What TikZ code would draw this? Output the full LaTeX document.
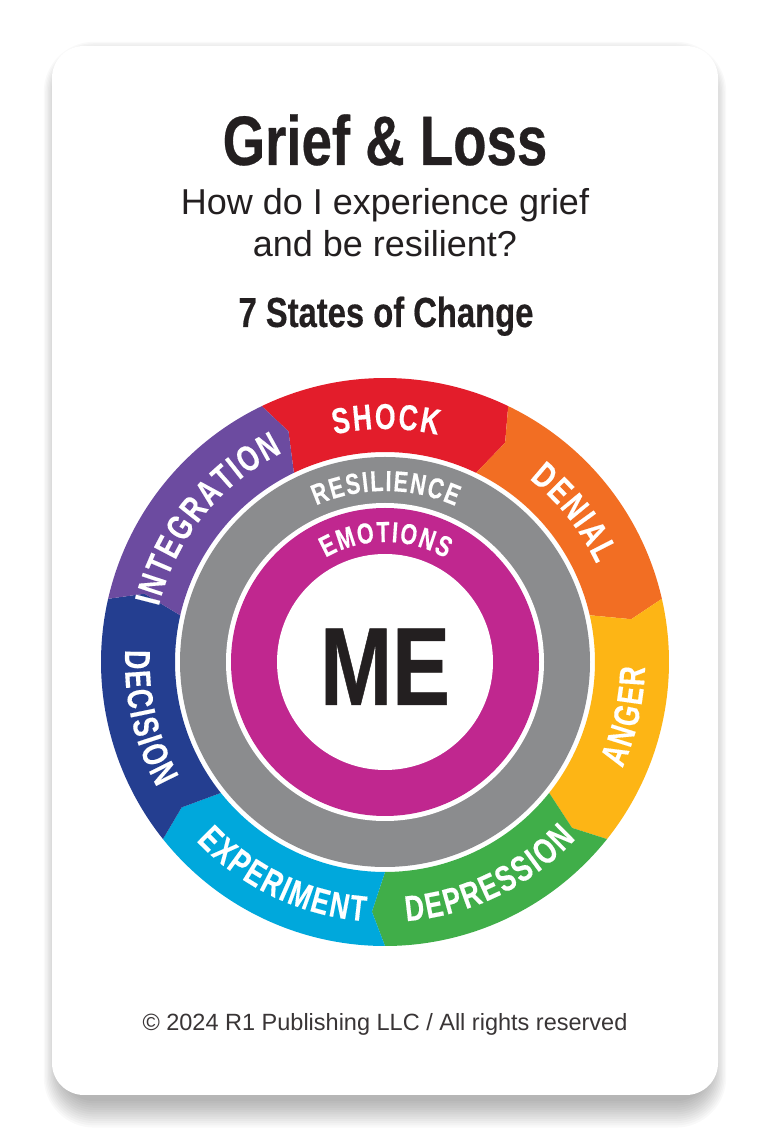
\documentclass[tikz,border=0pt]{standalone}
\usepackage{fontspec}
\setmainfont{Liberation Sans}
\newfontfamily\condfont{Liberation Sans Bold}[FakeStretch=0.78, FakeBold=0.4]
\newfontfamily\ringface{Liberation Sans Bold}[FakeStretch=0.74, FakeBold=0.3]
\usetikzlibrary{decorations.text}

\definecolor{inkdark}{HTML}{231F20}
\definecolor{shockred}{HTML}{E31D2B}
\definecolor{denialorange}{HTML}{F26E23}
\definecolor{angeryellow}{HTML}{FDB515}
\definecolor{depgreen}{HTML}{40AE49}
\definecolor{expcyan}{HTML}{00A8DC}
\definecolor{decnavy}{HTML}{243E90}
\definecolor{intpurple}{HTML}{6C4BA0}
\definecolor{resgray}{HTML}{8B8C8E}
\definecolor{emomagenta}{HTML}{C0278F}

% letters along the rings get a small kern each, as a loose tracking
\newcommand{\ringfont}{\ringface\fontsize{36}{36}\selectfont\kern2pt}
\newcommand{\innerfont}{\ringface\fontsize{29}{29}\selectfont\kern1.6pt}

\begin{document}
\begin{tikzpicture}[x=1pt, y=1pt,
  card/.style      = {fill=white, rounded corners=32pt},
  ringlabel/.style = {decorate, decoration={text along path,
                      text align=center, text color=white}},
  headline/.style  = {font=\condfont\fontsize{70}{70}\selectfont,
                      text=inkdark, anchor=base, inner sep=0pt},
  question/.style  = {font=\fontsize{36}{36}\selectfont,
                      text=inkdark, anchor=base, inner sep=0pt},
  subhead/.style   = {font=\condfont\fontsize{42}{42}\selectfont,
                      text=inkdark, anchor=base, inner sep=0pt},
  melabel/.style   = {font=\condfont\fontsize{111}{111}\selectfont,
                      text=inkdark, anchor=base, inner sep=0pt},
  footer/.style    = {font=\fontsize{23.5}{23.5}\selectfont,
                      text=inkdark!90, anchor=base, inner sep=0pt},
]

\useasboundingbox (0,0) rectangle (769,1144);
\fill[white] (0,0) rectangle (769,1144);

%% ── Card and its soft shadow ────────────────────────────────────────────────
\foreach \k in {1,...,13} {
  \pgfmathsetmacro\sr{32+1.4*\k}
  \fill[black, opacity=0.025, rounded corners=\sr pt]
    ({62-1.4*\k}, {45-2.2*\k}) rectangle ({708+1.4*\k}, {1084+1.4*\k});
}
\fill[card] (52,49) rectangle (718,1098);

%% ── Heading texts ───────────────────────────────────────────────────────────
\node[headline] (title)       at (385,979) {Grief \& Loss};
\node[question] (question)    at (385,929) {How do I experience grief};
\node[question] (questiontwo) at (385,887) {and be resilient?};
\node[subhead]  (states)      at (386,817) {7 States of Change};

%% ── Ring of the seven states (clockwise arrows) ────────────────────────────
\begin{scope}[shift={(385,482)}]
  \foreach \ang/\segcol/\lbl/\tr/\tsweep in {
      90/shockred/SHOCK/233/-1,
      38.571/denialorange/DENIAL/233/-1,
      -12.857/angeryellow/ANGER/260/1,
      -64.286/depgreen/DEPRESSION/260/1,
      -115.714/expcyan/EXPERIMENT/260/1,
      -167.143/decnavy/DECISION/260/1,
      141.429/intpurple/INTEGRATION/233/-1} {
    \pgfmathsetmacro\sa{\ang+25.714}
    \pgfmathsetmacro\sb{\ang-25.714}
    \fill[\segcol] (\sa:284) arc[start angle=\sa, end angle=\sb, radius=284]
      -- ({\sb-3}:250) -- (\sb:210)
      arc[start angle=\sb, end angle=\sa, radius=210]
      -- ({\sa-3}:250) -- cycle;
    \pgfmathsetmacro\ta{\ang-44*\tsweep}
    \pgfmathsetmacro\tb{\ang+44*\tsweep}
    \path[ringlabel, decoration={text/.expanded={|\noexpand\ringfont|\lbl}}]
      (\ta:\tr) arc[start angle=\ta, end angle=\tb, radius=\tr];
  }

  %% resilience and emotions rings
  \fill[resgray]    (0,0) circle[radius=205];
  \fill[white]      (0,0) circle[radius=159];
  \fill[emomagenta] (0,0) circle[radius=154];
  \fill[white]      (0,0) circle[radius=108];

  \path[ringlabel, decoration={text={|\innerfont|RESILIENCE}}]
    (128:171) arc[start angle=128, end angle=52, radius=171];
  \path[ringlabel, decoration={text={|\innerfont|EMOTIONS}}]
    (135:120) arc[start angle=135, end angle=45, radius=120];
\end{scope}

\node[melabel] (me) at (385,439) {ME};

%% ── Footer ──────────────────────────────────────────────────────────────────
\node[footer] (copyright) at (385,113) {© 2024 R1 Publishing LLC / All rights reserved};

\end{tikzpicture}
\end{document}
